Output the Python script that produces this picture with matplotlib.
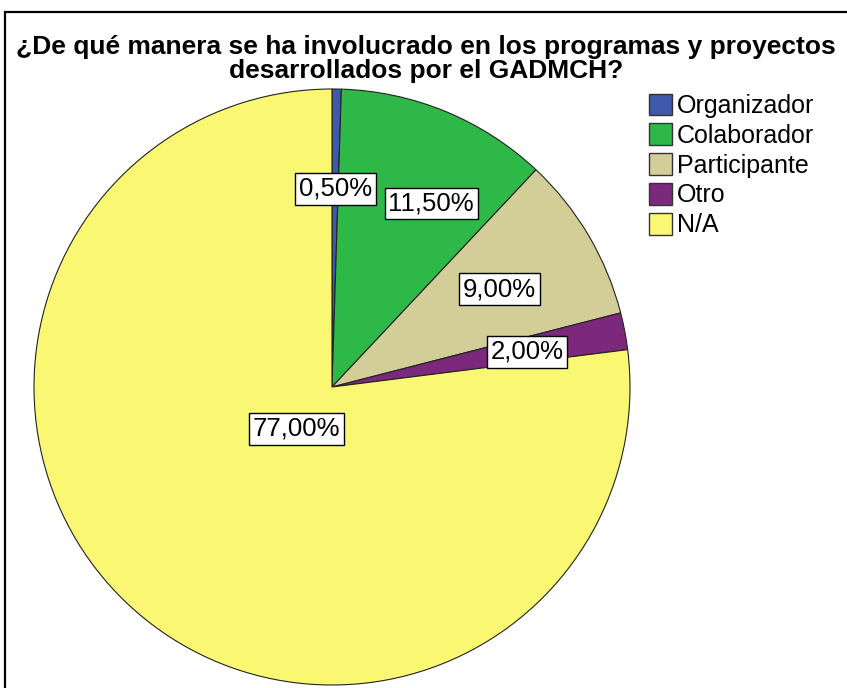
import numpy as np
import matplotlib.pyplot as plt
from matplotlib.patches import Rectangle, Patch

plt.rcParams['font.family'] = ['Liberation Sans', 'DejaVu Sans']

categories = ['Organizador', 'Colaborador', 'Participante', 'Otro', 'N/A']
values = [0.5, 11.5, 9.0, 2.0, 77.0]
labels = ['0,50%', '11,50%', '9,00%', '2,00%', '77,00%']
colors = ['#3E58AC', '#2EB848', '#D3CE97', '#7C287D', '#FAF773']
title = '¿De qué manera se ha involucrado en los programas y proyectos\ndesarrollados por el GADMCH?'

# label placement (radius fraction, angle in degrees) as SPSS put them
label_r = [0.665, 0.70, 0.65, 0.665, 0.185]
label_ang = [89.0, 61.6, 30.3, 10.2, 229.4]

fig = plt.figure(figsize=(8.47, 6.88), dpi=100)
ax = fig.add_axes([34 / 847, 3 / 688, 596 / 847, 596 / 688])

wedges, _ = ax.pie(values, colors=colors, startangle=90, counterclock=False,
                   wedgeprops=dict(edgecolor='#222222', linewidth=0.8))
ax.set_xlim(-1, 1)
ax.set_ylim(-1, 1)
ax.set_aspect('equal')

for lab, r, a in zip(labels, label_r, label_ang):
    t = np.deg2rad(a)
    ax.text(r * np.cos(t), r * np.sin(t), lab, ha='center', va='center', fontsize=18.5,
            bbox=dict(boxstyle='square,pad=0.15', facecolor='white', edgecolor='black', linewidth=1))

fig.text(426 / 847, 1 - 59 / 688, title, ha='center', va='center', fontsize=19,
         fontweight='bold', linespacing=1.0)

handles = [Patch(facecolor=c, edgecolor='#333333', linewidth=1) for c in colors]
fig.legend(handles, categories, loc='upper left', bbox_to_anchor=(631 / 847, 1 - 76 / 688),
           frameon=False, fontsize=18, handlelength=0.95, handleheight=0.95,
           handletextpad=0.2, labelspacing=0.22, borderpad=0.2)

# outer frame (left and top edges visible)
fig.add_artist(Rectangle((5 / 847, -0.05), 1.0, 1 - 12 / 688 + 0.05, transform=fig.transFigure,
                         fill=False, edgecolor='black', linewidth=1.6))

fig.savefig('out.png', dpi=100)
